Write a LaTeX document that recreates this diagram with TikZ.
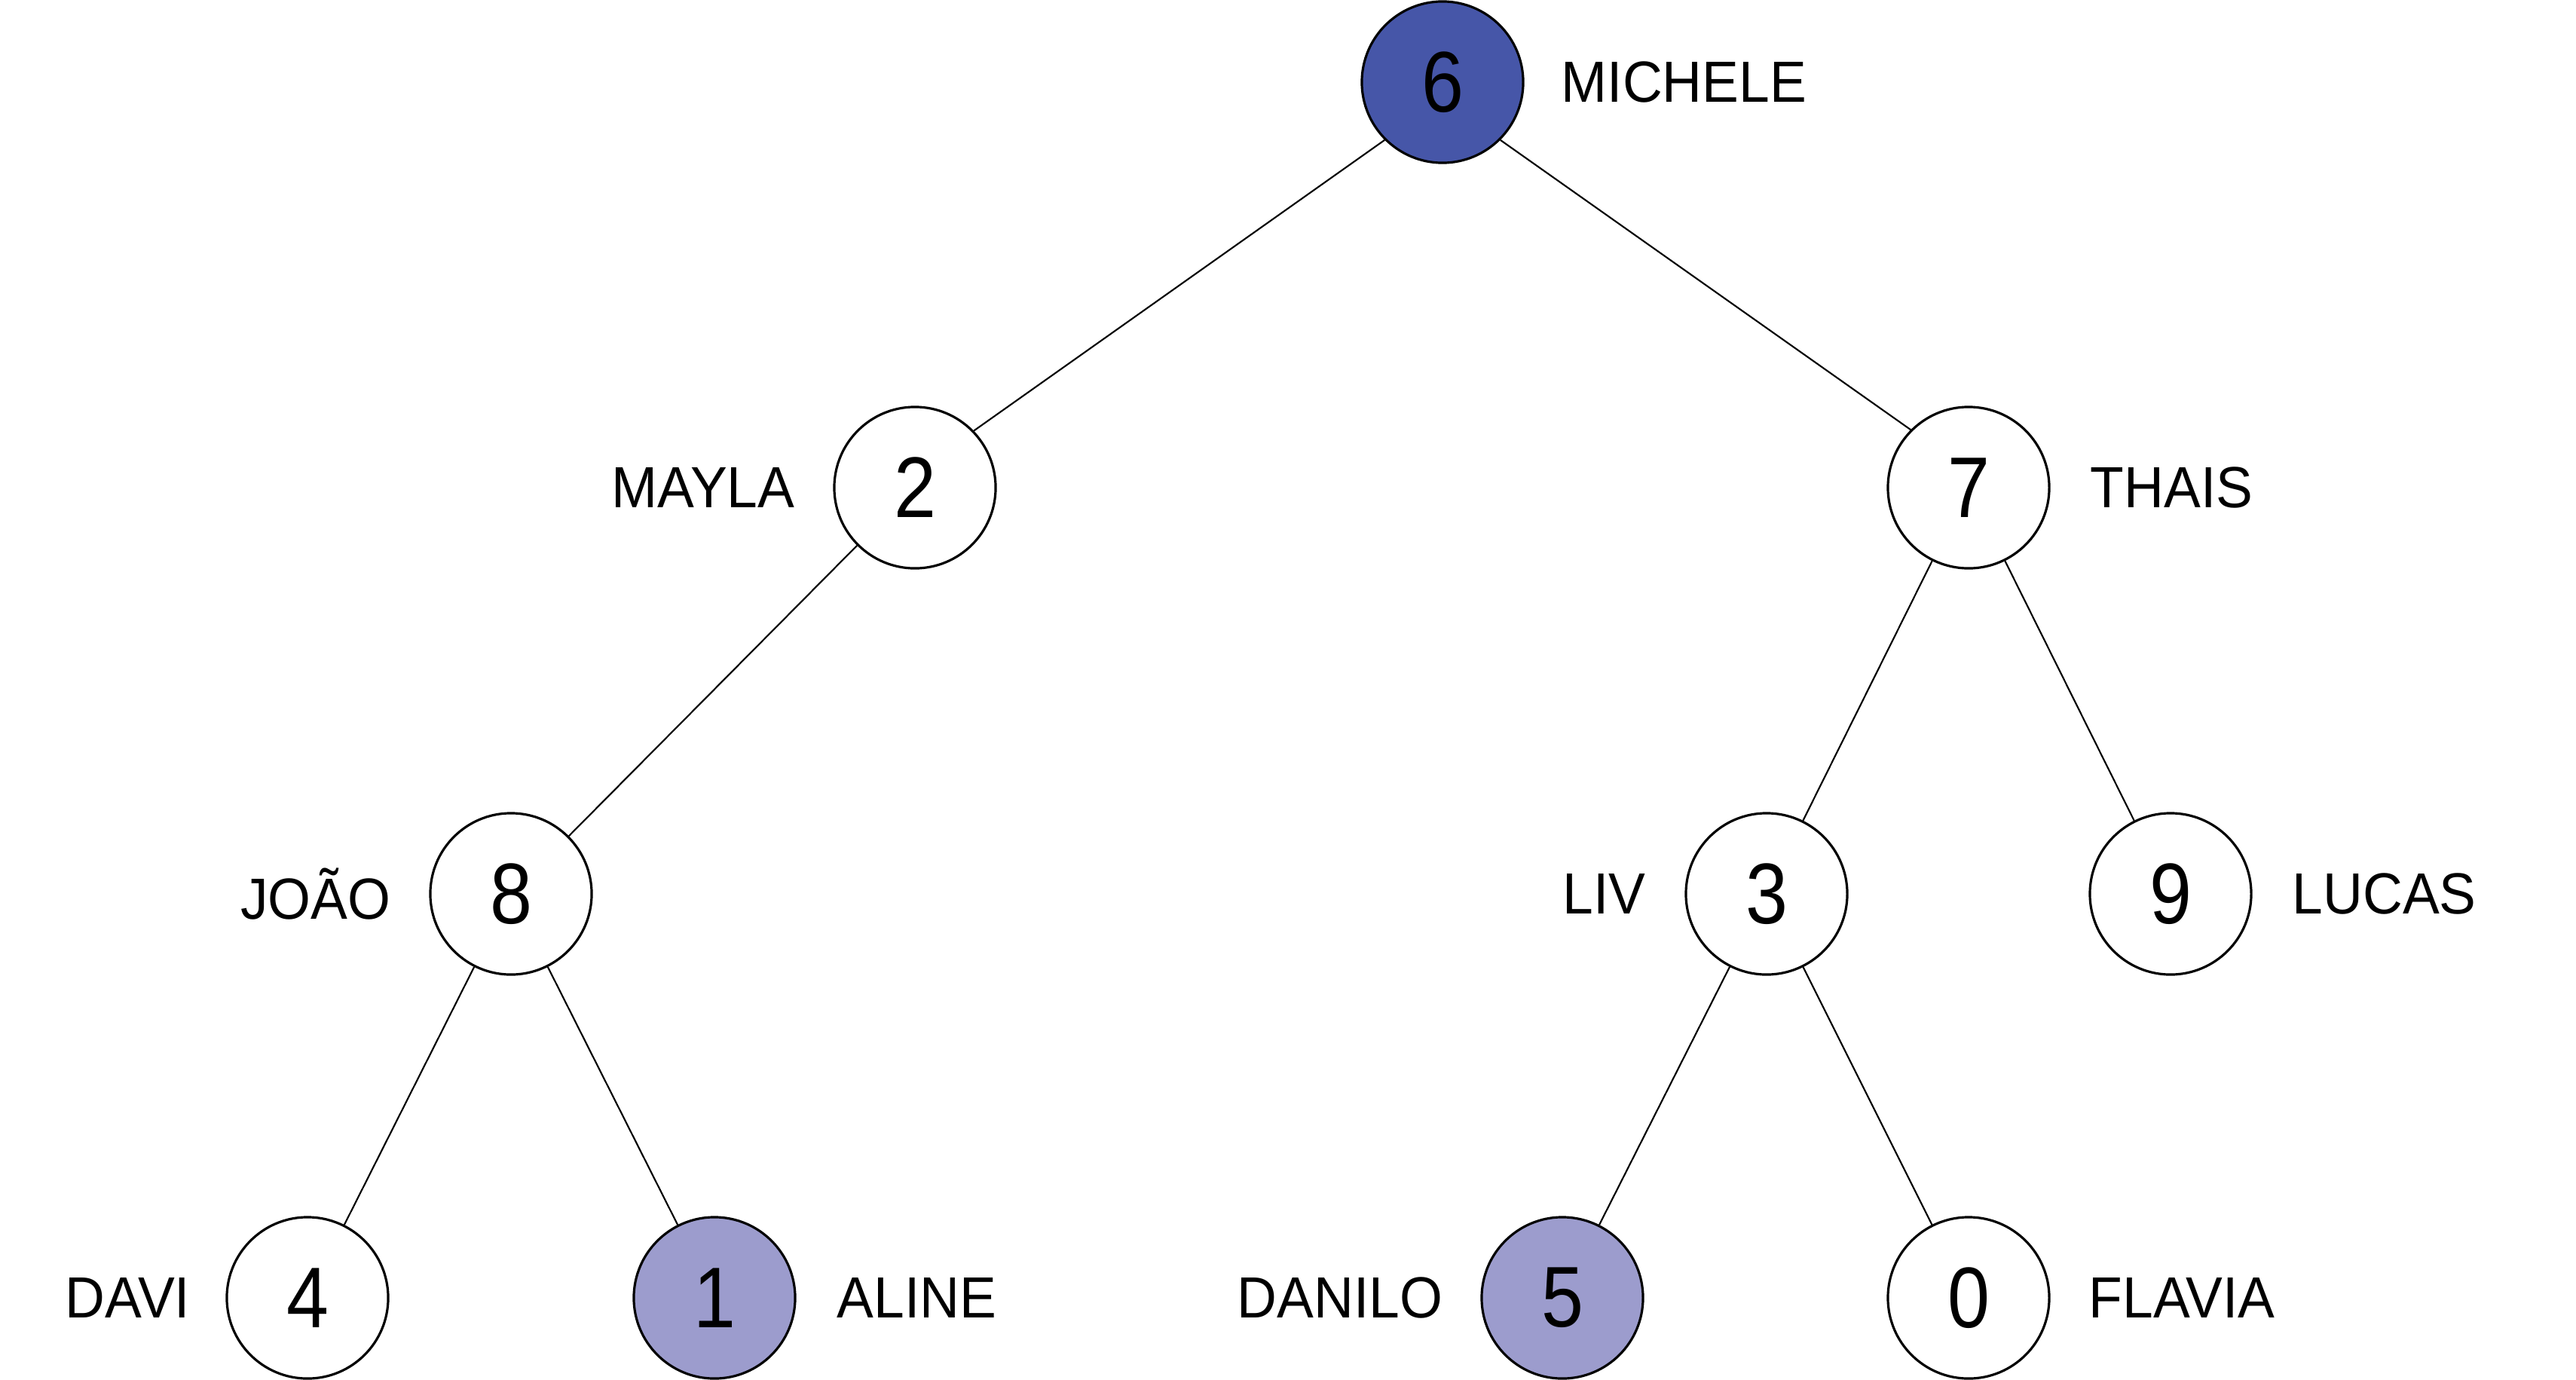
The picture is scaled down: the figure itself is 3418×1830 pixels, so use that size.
\documentclass[tikz,border=0pt]{standalone}
\usepackage{fontspec}
\setmainfont{Liberation Sans}
\newfontfamily\lblfont[FakeStretch=0.95]{Liberation Sans}
\newfontfamily\digfont[FakeStretch=0.88]{Liberation Sans}
\definecolor{darkfill}{HTML}{4656A8}
\definecolor{lightfill}{HTML}{9C9CCD}
\begin{document}
\begin{tikzpicture}[x=0.01cm,y=-0.01cm,
  tnode/.style={circle,draw=black,line width=0.9pt,fill=white,minimum size=2.14cm,inner sep=0pt,font=\digfont\fontsize{32.5}{36}\selectfont},
  dnode/.style={tnode,fill=darkfill},
  lnode/.style={tnode,fill=lightfill},
  lbl/.style={font=\lblfont\fontsize{21.9}{26}\selectfont,inner sep=0pt},
  edge/.style={line width=0.6pt,black}]
\useasboundingbox (0,0) rectangle (3418,1830);
\node[dnode] (n6) at (1914,109) {6};
\node[tnode] (n2) at (1214,647) {2};
\node[tnode] (n7) at (2612,647) {7};
\node[tnode] (n8) at (678,1186) {8};
\node[tnode] (n3) at (2344,1186) {3};
\node[tnode] (n9) at (2880,1186) {9};
\node[tnode] (n4) at (408,1722) {4};
\node[lnode] (n1) at (948,1722) {1};
\node[lnode] (n5) at (2073,1722) {5};
\node[tnode] (n0) at (2612,1722) {0};
\node[lbl,anchor=west] (l6) at (2071,109) {MICHELE};
\node[lbl,anchor=east] (l2) at (1055,647) {MAYLA};
\node[lbl,anchor=west] (l7) at (2773,647) {THAIS};
\node[lbl,anchor=east] (l8) at (519,1186) {JOÃO};
\node[lbl,anchor=east] (l3) at (2184,1186) {LIV};
\node[lbl,anchor=west] (l9) at (3041,1186) {LUCAS};
\node[lbl,anchor=east] (l4) at (253,1722) {DAVI};
\node[lbl,anchor=west] (l1) at (1110,1722) {ALINE};
\node[lbl,anchor=east] (l5) at (1915,1722) {DANILO};
\node[lbl,anchor=west] (l0) at (2771,1722) {FLAVIA};
\draw[edge] (n6.225.8) -- (n2.44.2);
\draw[edge] (n6.315) -- (n7.135.8);
\draw[edge] (n2.225) -- (n8.45);
\draw[edge] (n7) -- (n3);
\draw[edge] (n7) -- (n9);
\draw[edge] (n8) -- (n4);
\draw[edge] (n8) -- (n1);
\draw[edge] (n3) -- (n5);
\draw[edge] (n3) -- (n0);
\end{tikzpicture}
\end{document}
